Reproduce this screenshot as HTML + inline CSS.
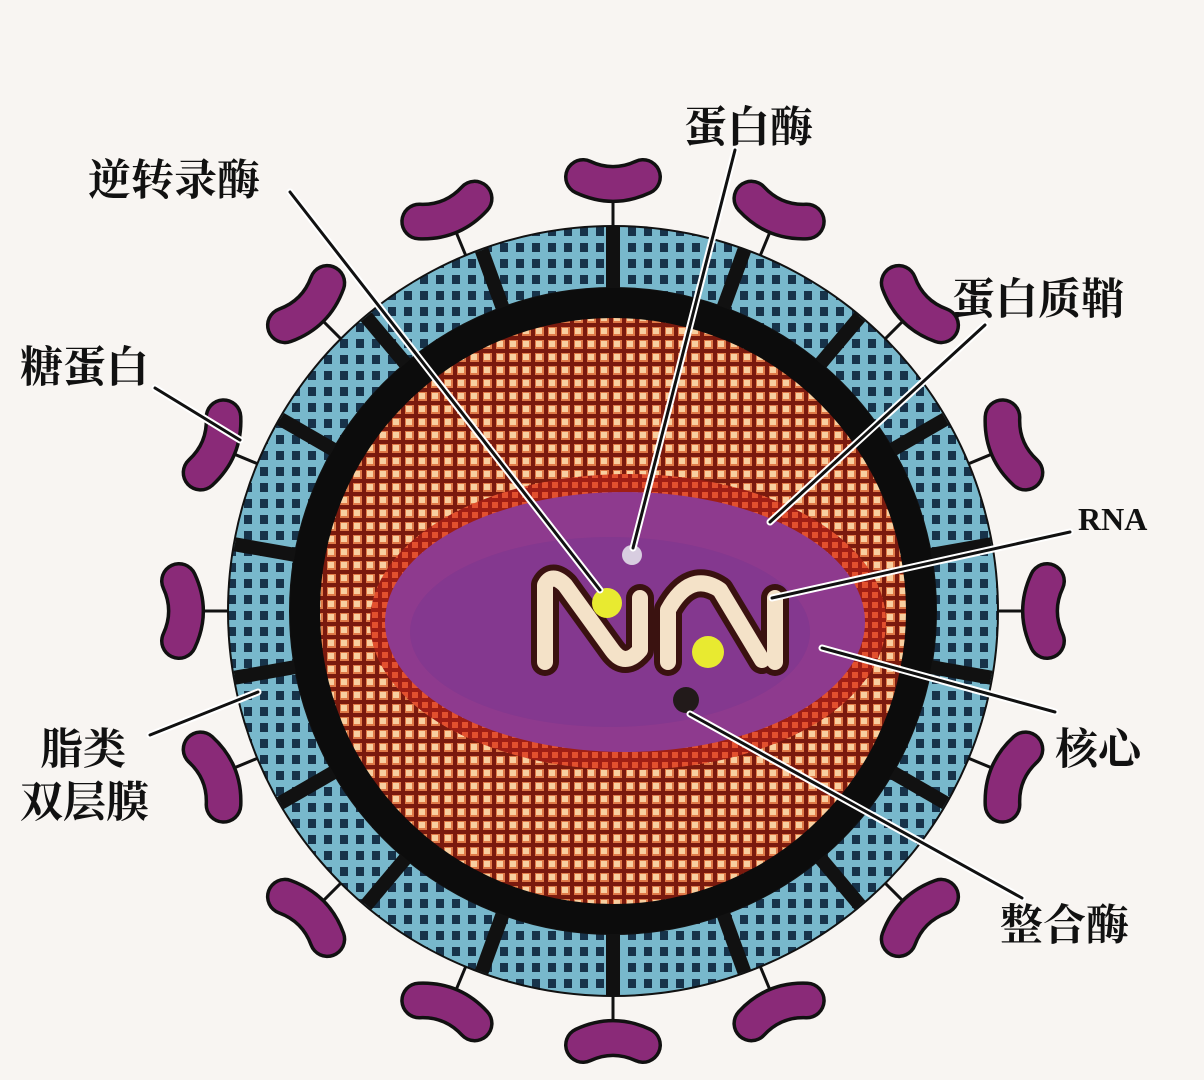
<!DOCTYPE html>
<html><head><meta charset="utf-8"><style>
html,body{margin:0;padding:0;background:#f8f5f2;}
svg{display:block}
text{font-family:"Liberation Serif","Noto Serif CJK SC",serif;font-size:43px;fill:#111;font-weight:bold}
</style></head><body>
<svg width="1204" height="1080" viewBox="0 0 1204 1080" xmlns="http://www.w3.org/2000/svg">
<defs>
<pattern id="org" width="13" height="13" patternUnits="userSpaceOnUse">
<rect width="13" height="13" fill="#7a1a0e"/>
<rect x="2" y="2" width="9" height="9" fill="#e07a48"/>
<rect x="3" y="3" width="6" height="6" fill="#f8cfa0"/>
</pattern>
<pattern id="blu" width="16" height="16" patternUnits="userSpaceOnUse">
<rect width="16" height="16" fill="#78b8cc"/>
<rect x="4" y="3" width="8" height="9" fill="#17334a"/>
</pattern>
<pattern id="red" width="10" height="10" patternUnits="userSpaceOnUse">
<rect width="10" height="10" fill="#a01e14"/>
<rect x="2" y="2" width="6" height="6" fill="#e2502e"/>
</pattern>
<g id="spike">
<line x1="0" y1="-380" x2="0" y2="-415" stroke="#111" stroke-width="3"/>
<path d="M -30 -434 Q 0 -420 30 -434" fill="none" stroke="#111" stroke-width="38" stroke-linecap="round"/>
<path d="M -30 -434 Q 0 -420 30 -434" fill="none" stroke="#8a2a78" stroke-width="31" stroke-linecap="round"/>
</g>
<line id="sep" x1="0" y1="-300" x2="0" y2="-384" stroke="#111" stroke-width="14"/>
</defs>
<g transform="translate(613,611)">
<use href="#spike" transform="rotate(0)"/>
<use href="#spike" transform="rotate(22.5)"/>
<use href="#spike" transform="rotate(45)"/>
<use href="#spike" transform="rotate(67.5)"/>
<use href="#spike" transform="rotate(90)"/>
<use href="#spike" transform="rotate(112.5)"/>
<use href="#spike" transform="rotate(135)"/>
<use href="#spike" transform="rotate(157.5)"/>
<use href="#spike" transform="rotate(180)"/>
<use href="#spike" transform="rotate(202.5)"/>
<use href="#spike" transform="rotate(225)"/>
<use href="#spike" transform="rotate(247.5)"/>
<use href="#spike" transform="rotate(270)"/>
<use href="#spike" transform="rotate(292.5)"/>
<use href="#spike" transform="rotate(315)"/>
<use href="#spike" transform="rotate(337.5)"/>
</g>
<circle cx="613" cy="611" r="386" fill="#111"/>
<circle cx="613" cy="611" r="354" fill="none" stroke="url(#blu)" stroke-width="60"/>
<g transform="translate(613,611)">
<use href="#sep" transform="rotate(0)"/>
<use href="#sep" transform="rotate(20)"/>
<use href="#sep" transform="rotate(40)"/>
<use href="#sep" transform="rotate(60)"/>
<use href="#sep" transform="rotate(80)"/>
<use href="#sep" transform="rotate(100)"/>
<use href="#sep" transform="rotate(120)"/>
<use href="#sep" transform="rotate(140)"/>
<use href="#sep" transform="rotate(160)"/>
<use href="#sep" transform="rotate(180)"/>
<use href="#sep" transform="rotate(200)"/>
<use href="#sep" transform="rotate(220)"/>
<use href="#sep" transform="rotate(240)"/>
<use href="#sep" transform="rotate(260)"/>
<use href="#sep" transform="rotate(280)"/>
<use href="#sep" transform="rotate(300)"/>
<use href="#sep" transform="rotate(320)"/>
<use href="#sep" transform="rotate(340)"/>
</g>
<circle cx="613" cy="611" r="323" fill="#0c0c0c"/>
<circle cx="613" cy="611" r="293" fill="url(#org)"/>
<ellipse cx="628" cy="622" rx="258" ry="148" fill="url(#red)"/>
<ellipse cx="625" cy="622" rx="240" ry="130" fill="#8e3a8e"/>
<ellipse cx="610" cy="632" rx="200" ry="95" fill="#7a3590" opacity="0.5"/>
<g fill="none" stroke-linecap="round" stroke-linejoin="round">
<path d="M545 662 L545 585 Q552 572 565 585 L612 650 Q625 668 640 650 L640 598" stroke="#3a1210" stroke-width="28"/>
<path d="M668 662 L668 610 Q690 570 720 590 L762 660 M775 662 L775 598" stroke="#3a1210" stroke-width="28"/>
<path d="M545 662 L545 585 Q552 572 565 585 L612 650 Q625 668 640 650 L640 598" stroke="#f4e2c8" stroke-width="16"/>
<path d="M668 662 L668 610 Q690 570 720 590 L762 660 M775 662 L775 598" stroke="#f4e2c8" stroke-width="16"/>
</g>
<circle cx="607" cy="603" r="15" fill="#e8ea30"/>
<circle cx="708" cy="652" r="16" fill="#e8ea30"/>
<circle cx="632" cy="555" r="10" fill="#d8cde0"/>
<circle cx="686" cy="700" r="13" fill="#221a1a"/>
<g fill="none" stroke-linecap="round">
<g stroke="#fff" stroke-width="7">
<line x1="290" y1="192" x2="600" y2="590"/>
<line x1="735" y1="150" x2="633" y2="548"/>
<line x1="985" y1="325" x2="770" y2="522"/>
<line x1="1070" y1="532" x2="772" y2="598"/>
<line x1="1055" y1="712" x2="822" y2="648"/>
<line x1="1022" y1="898" x2="690" y2="714"/>
<line x1="258" y1="692" x2="150" y2="735"/>
<line x1="240" y1="440" x2="155" y2="388"/>
</g>
<g stroke="#111" stroke-width="3">
<line x1="290" y1="192" x2="600" y2="590"/>
<line x1="735" y1="150" x2="633" y2="548"/>
<line x1="985" y1="325" x2="770" y2="522"/>
<line x1="1070" y1="532" x2="772" y2="598"/>
<line x1="1055" y1="712" x2="822" y2="648"/>
<line x1="1022" y1="898" x2="690" y2="714"/>
<line x1="258" y1="692" x2="150" y2="735"/>
<line x1="240" y1="440" x2="155" y2="388"/>
</g></g>
<text x="684" y="142">蛋白酶</text>
<text x="88" y="195">逆转录酶</text>
<text x="952" y="314">蛋白质鞘</text>
<text x="20" y="382">糖蛋白</text>
<text x="1078" y="530" style="font-size:32px">RNA</text>
<text x="1055" y="764">核心</text>
<text x="40" y="764">脂类</text>
<text x="20" y="817">双层膜</text>
<text x="1000" y="940">整合酶</text>
</svg>
</body></html>
